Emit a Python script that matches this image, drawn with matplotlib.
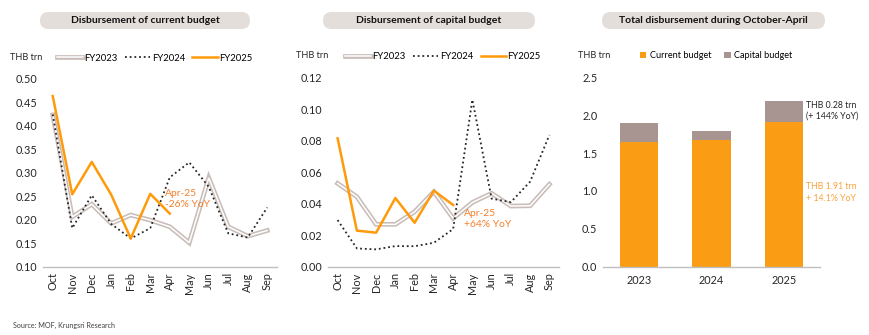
import matplotlib.pyplot as plt
import matplotlib.patheffects as pe
from matplotlib.patches import FancyBboxPatch
import numpy as np

plt.rcParams['font.family'] = ['Lato', 'DejaVu Sans']

months = ['Oct', 'Nov', 'Dec', 'Jan', 'Feb', 'Mar', 'Apr', 'May', 'Jun', 'Jul', 'Aug', 'Sep']

# current budget disbursement, THB trn
cur_fy2023 = [0.423, 0.206, 0.233, 0.192, 0.210, 0.199, 0.185, 0.151, 0.289, 0.185, 0.165, 0.177]
cur_fy2024 = [0.424, 0.182, 0.252, 0.191, 0.160, 0.182, 0.290, 0.322, 0.270, 0.171, 0.162, 0.226]
cur_fy2025 = [0.463, 0.254, 0.323, 0.253, 0.160, 0.255, 0.213]

# capital budget disbursement, THB trn
cap_fy2023 = [0.0529, 0.0444, 0.0269, 0.0269, 0.0349, 0.0476, 0.0307, 0.0408, 0.0466, 0.0385, 0.0387, 0.0523]
cap_fy2024 = [0.0296, 0.0116, 0.0110, 0.0131, 0.0130, 0.0152, 0.0239, 0.1060, 0.0432, 0.0410, 0.0540, 0.0836]
cap_fy2025 = [0.0815, 0.0229, 0.0216, 0.0436, 0.0279, 0.0483, 0.0392]

# Oct-Apr totals
years = ['2023', '2024', '2025']
tot_current = [1.646, 1.677, 1.91]
tot_capital = [0.255, 0.115, 0.28]

ORANGE = '#FF9A0A'
BAR_ORANGE = '#FA9D14'
NOTE_ORANGE = '#F57F2A'
GREYBROWN = '#A89591'
OUTLINE = '#C9BDB9'
AXIS = '#BFBFBF'
TXT = '#262626'

fig = plt.figure(figsize=(8.7, 3.35), dpi=100)
H = 335


def px_axes(x0, x1, ytop, ybot):
    return fig.add_axes([x0 / 870, (H - ybot) / H, (x1 - x0) / 870, (ybot - ytop) / H])


def pill(x0, x1, text):
    box = FancyBboxPatch((x0, H - 29), x1 - x0, 17, boxstyle='round,pad=0,rounding_size=8.5',
                         transform=None, facecolor='#E4DEDB', edgecolor='none')
    fig.add_artist(box)
    fig.text((x0 + x1) / 2 / 870, (H - 20.5) / H, text, ha='center', va='center',
             fontsize=7.5, fontweight='bold', color='#111111')


def style(ax):
    for s in ['top', 'right', 'left']:
        ax.spines[s].set_visible(False)
    ax.spines['bottom'].set_color(AXIS)
    ax.spines['bottom'].set_linewidth(1.0)
    ax.tick_params(axis='both', length=0, labelsize=7.8, colors=TXT, pad=4)


def line_panel(ax, fy23, fy24, fy25, ylim, step, fmt, leg_x):
    x = np.arange(len(months))
    ax.plot(x, fy23, color='white', lw=1.1, label='FY2023', solid_joinstyle='miter',
            path_effects=[pe.Stroke(linewidth=3.4, foreground=OUTLINE), pe.Normal()])
    ax.plot(x, fy24, color='#262626', lw=1.3, ls=(0, (1, 1.6)), label='FY2024')
    ax.plot(x[:len(fy25)], fy25, color=ORANGE, lw=1.8, label='FY2025')
    ax.set_xlim(-0.5, 11.5)
    ax.set_ylim(*ylim)
    ax.set_yticks(np.arange(ylim[0], ylim[1] + step / 2, step))
    ax.set_yticklabels([fmt.format(v) for v in ax.get_yticks()])
    ax.set_xticks(x)
    ax.set_xticklabels(months, rotation=90, fontsize=7.4)
    style(ax)
    ax.text(-0.14, 1.115, 'THB trn', transform=ax.transAxes, fontsize=6.6, color=TXT, va='center')
    ax.legend(loc='center left', bbox_to_anchor=(leg_x, 1.11), ncol=3, frameon=False,
              fontsize=6.8, handlelength=2.7, handletextpad=0.15, columnspacing=0.8,
              borderaxespad=0, borderpad=0)


# current budget
pill(40, 250, 'Disbursement of current budget')
ax1 = px_axes(43, 277, 78.7, 266.7)
line_panel(ax1, cur_fy2023, cur_fy2024, cur_fy2025, (0.10, 0.50), 0.05, '{:.2f}', 0.06)
ax1.text(5.78, 0.244, 'Apr-25\n-26% YoY', color=NOTE_ORANGE, fontsize=7.4,
         va='center', ha='left', linespacing=1.2)

# capital budget
pill(323, 535, 'Disbursement of capital budget')
ax2 = px_axes(328, 559, 77.7, 266.7)
line_panel(ax2, cap_fy2023, cap_fy2024, cap_fy2025, (0.0, 0.12), 0.02, '{:.2f}', 0.074)
ax2.text(6.55, 0.0303, 'Apr-25\n+64% YoY', color=NOTE_ORANGE, fontsize=7.4,
         va='center', ha='left', linespacing=1.2)

# Oct-Apr totals
pill(602, 825, 'Total disbursement during October-April')
ax3 = px_axes(603, 820, 77.3, 266.7)
xb = np.arange(len(years))
ax3.bar(xb, tot_current, width=0.53, color=BAR_ORANGE, label='Current budget')
ax3.bar(xb, tot_capital, width=0.53, bottom=tot_current, color=GREYBROWN, label='Capital budget')
ax3.set_xlim(-0.5, 2.5)
ax3.set_ylim(0, 2.5)
ax3.set_yticks(np.arange(0, 2.51, 0.5))
ax3.set_yticklabels(['{:.1f}'.format(v) for v in np.arange(0, 2.51, 0.5)])
ax3.set_xticks(xb)
ax3.set_xticklabels(years)
style(ax3)
ax3.tick_params(axis='x', pad=6)
ax3.text(-0.115, 1.115, 'THB trn', transform=ax3.transAxes, fontsize=6.6, color=TXT, va='center')
ax3.legend(loc='center left', bbox_to_anchor=(0.17, 1.115), ncol=2, frameon=False,
           fontsize=6.6, handlelength=0.7, handleheight=0.7, handletextpad=0.4,
           columnspacing=1.4, borderaxespad=0, borderpad=0)
ax3.text(2.3, tot_current[2] + tot_capital[2] - 0.13,
         'THB {:.2f} trn\n(+ 144% YoY)'.format(tot_capital[2]),
         color=TXT, fontsize=6.3, va='center', ha='left', linespacing=1.3)
ax3.text(2.3, 0.98, 'THB {:.2f} trn\n+ 14.1% YoY'.format(tot_current[2]),
         color='#F9A23C', fontsize=6.3, va='center', ha='left', linespacing=1.3)

fig.text(13 / 870, (H - 325) / H, 'Source: MOF, Krungsri Research', fontsize=5.1,
         color='#404040', va='center')

fig.savefig('out.png', dpi=100, facecolor='white')
